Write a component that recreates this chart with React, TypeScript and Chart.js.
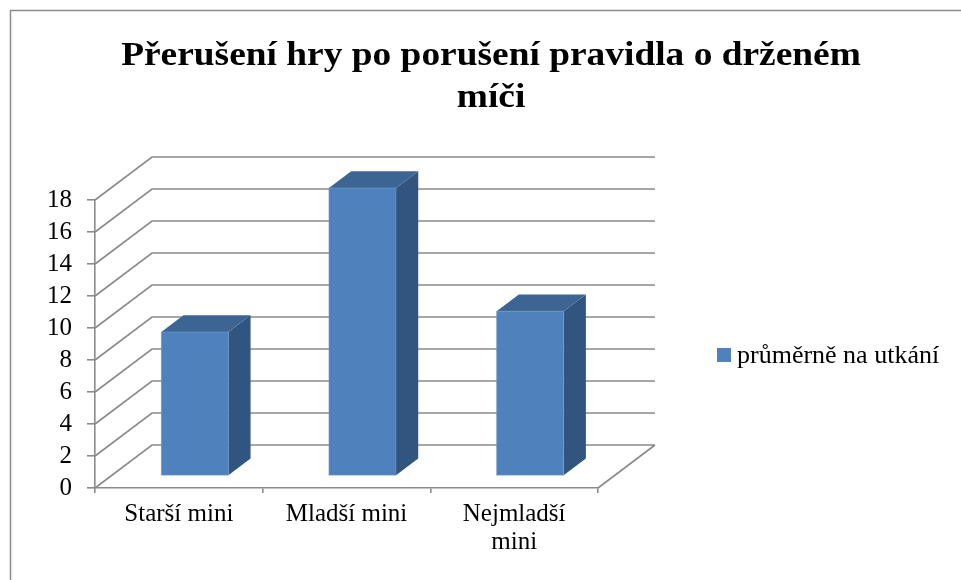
import React, { useEffect, useRef } from "react";
import { Chart, registerables } from "chart.js";

Chart.register(...registerables);

const titleLines = ["Přerušení hry po porušení pravidla o drženém", "míči"];
const categories: (string | string[])[] = ["Starší mini", "Mladší mini", ["Nejmladší", "mini"]];
const seriesLabel = "průměrně na utkání";
const seriesValues = [9.0, 18.0, 10.3];
const yMin = 0;
const yMax = 18;
const yStep = 2;

const FONT = "'Liberation Serif', 'Times New Roman', serif";
const GRID = "#8a8a8a";
const FRONT = "#4f81bd";
const TOP = "#3d6593";
const SIDE = "#325580";

// depth of 3D box (pixels)
const DEPTH_X = 57;
const DEPTH_Y = -43;
const BAR_F0 = 0.28;
const BAR_F1 = 0.67;

const W = 986;
const H = 600;

const threeD = {
  id: "threeD",
  beforeDraw(chart: any) {
    const ctx = chart.ctx;
    const { left, right, bottom } = chart.chartArea;
    const ys = chart.scales.y;
    ctx.save();
    ctx.fillStyle = "#ffffff";
    ctx.fillRect(0, 0, chart.width, chart.height);
    // outer frame
    ctx.strokeStyle = "#8c8c8c";
    ctx.lineWidth = 1.5;
    ctx.strokeRect(10.5, 10.5, chart.width - 2, chart.height - 2);
    // title (slightly wide rendering like the reference)
    ctx.fillStyle = "#000";
    ctx.font = `bold 34px ${FONT}`;
    ctx.textAlign = "center";
    ctx.textBaseline = "alphabetic";
    const hs = 1.1;
    ctx.save();
    ctx.scale(hs, 1);
    ctx.fillText(titleLines[0], 491 / hs, 65);
    ctx.fillText(titleLines[1], 491 / hs, 106.5);
    ctx.restore();
    // legend
    const ds = chart.data.datasets[0];
    ctx.fillStyle = ds.backgroundColor;
    ctx.fillRect(717, 348, 14, 14);
    ctx.fillStyle = "#000";
    ctx.font = `26px ${FONT}`;
    ctx.textAlign = "left";
    ctx.textBaseline = "alphabetic";
    ctx.fillText(ds.label, 737, 363);

    // walls & gridlines
    ctx.strokeStyle = GRID;
    ctx.lineWidth = 1.6;
    ctx.beginPath();
    for (let v = yMin; v <= yMax; v += yStep) {
      const py = ys.getPixelForValue(v);
      ctx.moveTo(left, py);
      ctx.lineTo(left + DEPTH_X, py + DEPTH_Y);
      ctx.lineTo(right + DEPTH_X, py + DEPTH_Y);
    }
    // floor right edge
    ctx.moveTo(right, bottom);
    ctx.lineTo(right + DEPTH_X, bottom + DEPTH_Y);
    ctx.stroke();
    ctx.restore();
  },
  beforeDatasetsDraw(chart: any) {
    const ctx = chart.ctx;
    const meta = chart.getDatasetMeta(0);
    const ox = DEPTH_X * BAR_F0;
    const oy = DEPTH_Y * BAR_F0;
    const dx = DEPTH_X * (BAR_F1 - BAR_F0);
    const dy = DEPTH_Y * (BAR_F1 - BAR_F0);
    ctx.save();
    meta.data.forEach((el: any) => {
      const { x, y, base, width } = el.getProps(["x", "y", "base", "width"], true);
      const x0 = x - width / 2 + ox;
      const x1 = x + width / 2 + ox;
      const t = y + oy;
      const b = base + oy;
      // side
      ctx.fillStyle = SIDE;
      ctx.beginPath();
      ctx.moveTo(x1, t);
      ctx.lineTo(x1 + dx, t + dy);
      ctx.lineTo(x1 + dx, b + dy);
      ctx.lineTo(x1, b);
      ctx.closePath();
      ctx.fill();
      // top
      ctx.fillStyle = TOP;
      ctx.beginPath();
      ctx.moveTo(x0, t);
      ctx.lineTo(x0 + dx, t + dy);
      ctx.lineTo(x1 + dx, t + dy);
      ctx.lineTo(x1, t);
      ctx.closePath();
      ctx.fill();
      // front
      ctx.fillStyle = FRONT;
      ctx.fillRect(x0, t, x1 - x0, b - t);
      ctx.strokeStyle = "rgba(120,160,210,0.6)";
      ctx.lineWidth = 0.8;
      ctx.strokeRect(x0, t, x1 - x0, b - t);
    });
    ctx.restore();
    return false;
  },
};

export default function App() {
  const ref = useRef<HTMLCanvasElement>(null);
  useEffect(() => {
    const chart = new Chart(ref.current!, {
      type: "bar",
      data: {
        labels: categories,
        datasets: [
          {
            label: seriesLabel,
            data: seriesValues,
            backgroundColor: FRONT,
            barPercentage: 0.4,
            categoryPercentage: 1,
          },
        ],
      },
      options: {
        animation: false,
        responsive: false,
        events: [],
        layout: { padding: { left: 10, top: 200, right: W - 598, bottom: 0 } },
        plugins: { legend: { display: false }, title: { display: false }, tooltip: { enabled: false } },
        scales: {
          x: {
            afterFit: (s: any) => {
              s.height = H - 488;
            },
            grid: { display: true, drawOnChartArea: false, drawTicks: true, tickLength: 5, color: GRID, lineWidth: 1.6, offset: true },
            border: { display: true, color: GRID, width: 1.6 },
            ticks: { color: "#000", font: { family: FONT, size: 25, lineHeight: 1.13 }, padding: 7, maxRotation: 0, autoSkip: false },
          },
          y: {
            min: yMin,
            max: yMax,
            afterFit: (s: any) => {
              s.width = 85;
            },
            grid: { display: true, drawOnChartArea: false, drawTicks: true, tickLength: 8, color: GRID, lineWidth: 1.6 },
            border: { display: true, color: GRID, width: 1.6 },
            ticks: { stepSize: yStep, autoSkip: false, color: "#000", font: { family: FONT, size: 25, lineHeight: 1 }, padding: 15 },
          },
        },
      },
      plugins: [threeD],
    });
    return () => chart.destroy();
  }, []);
  return (
    <div style={{ position: "fixed", left: 0, top: 0, width: 961, height: 580, overflow: "hidden", background: "#fff" }}>
      <canvas ref={ref} width={W} height={H} style={{ position: "absolute", left: 0, top: 0, width: W, height: H }} />
    </div>
  );
}
